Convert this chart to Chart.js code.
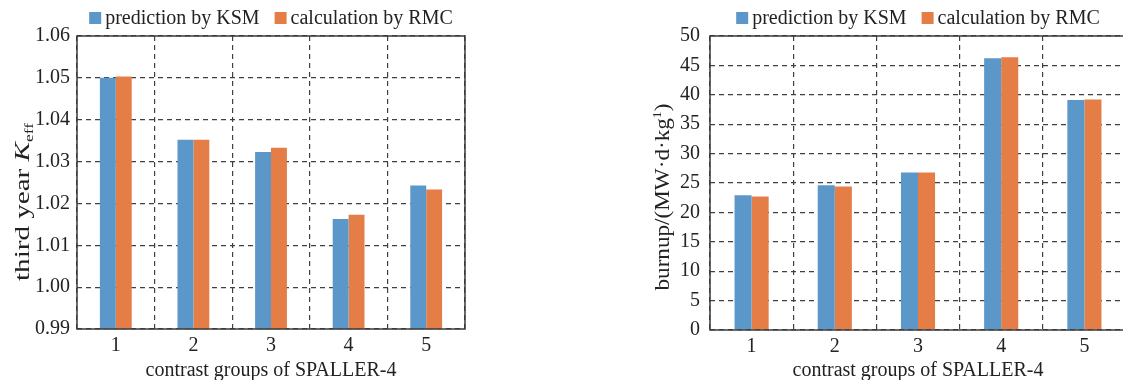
<!DOCTYPE html>
<html lang="en">
<head>
    <meta charset="UTF-8">
    <title>KSM vs RMC</title>
    <script src="https://cdn.jsdelivr.net/npm/chart.js"></script>
    <style>
        html, body { margin: 0; padding: 0; background: #fff; }
        body { width: 1123px; height: 380px; overflow: hidden; position: relative; }
        .painel { position: absolute; top: 0; height: 380px; }
    </style>
</head>
<body>
    <div class="painel" style="left:0;width:560px">
        <canvas id="graficoKeff" width="560" height="380"></canvas>
    </div>
    <div class="painel" style="left:600px;width:530px">
        <canvas id="graficoBurnup" width="530" height="380"></canvas>
    </div>
<script>
    // dados
    const groups = ['1', '2', '3', '4', '5'];
    const seriesNames = ['prediction by KSM', 'calculation by RMC'];

    const keffKSM = [1.0500, 1.0352, 1.0323, 1.0163, 1.0243];
    const keffRMC = [1.0503, 1.0352, 1.0333, 1.0173, 1.0233];
    const keffTicks = [0.99, 1.00, 1.01, 1.02, 1.03, 1.04, 1.05, 1.06];

    const burnupKSM = [22.9, 24.6, 26.8, 46.2, 39.1];
    const burnupRMC = [22.7, 24.4, 26.8, 46.4, 39.2];
    const burnupTicks = [0, 5, 10, 15, 20, 25, 30, 35, 40, 45, 50];

    const azul = '#5b97c9';
    const laranja = '#e57d46';
    const serif = '"Liberation Serif", "Times New Roman", serif';

    Chart.defaults.font.family = serif;
    Chart.defaults.font.size = 20;
    Chart.defaults.color = '#222';

    // moldura + legenda + titulo do eixo y desenhados à mão
    const molduraLegenda = {
        id: 'molduraLegenda',
        afterDraw(chart) {
            const ctx = chart.ctx;
            const a = chart.chartArea;
            ctx.save();
            ctx.strokeStyle = '#3a3a3a';
            ctx.lineWidth = 1.5;
            ctx.setLineDash([]);
            ctx.strokeRect(a.left, a.top, a.right - a.left, a.bottom - a.top);

            // legenda
            ctx.font = '20px ' + serif;
            const caixa = 12, gap = 4, entre = 15;
            const itens = chart.data.datasets.map(d => ({ cor: d.backgroundColor, txt: d.label, w: ctx.measureText(d.label).width }));
            let total = 0;
            itens.forEach((it, i) => { total += caixa + gap + it.w + (i > 0 ? entre : 0); });
            let x = (a.left + a.right) / 2 - total / 2;
            const base = 24;
            ctx.textBaseline = 'alphabetic';
            ctx.textAlign = 'left';
            itens.forEach((it, i) => {
                if (i > 0) x += entre;
                ctx.fillStyle = it.cor;
                ctx.fillRect(x, base - caixa, caixa, caixa);
                x += caixa + gap;
                ctx.fillStyle = '#222';
                ctx.fillText(it.txt, x, base);
                x += it.w;
            });

            // titulo do eixo y (texto esticado como no original)
            const t = chart.options.plugins.molduraLegenda;
            if (t && t.partes) {
                ctx.save();
                ctx.translate(t.x, t.y);
                ctx.rotate(-Math.PI / 2);
                let larg = 0;
                t.partes.forEach(p => { ctx.font = p.font; p.w = ctx.measureText(p.txt).width; larg += p.w; });
                ctx.scale(t.comprimento / larg, 1);
                let px = -larg / 2;
                ctx.fillStyle = '#222';
                t.partes.forEach(p => {
                    ctx.font = p.font;
                    ctx.fillText(p.txt, px, p.dy || 0);
                    px += p.w;
                });
                ctx.restore();
            }
            ctx.restore();
        }
    };

    function montarGrafico(idCanvas, ksm, rmc, ticks, opcoes) {
        const dados = {
            labels: groups,
            datasets: [{
                label: seriesNames[0],
                data: ksm,
                backgroundColor: azul,
                borderWidth: 0,
                categoryPercentage: 0.41,
                barPercentage: 1.0
            },
            {
                label: seriesNames[1],
                data: rmc,
                backgroundColor: laranja,
                borderWidth: 0,
                categoryPercentage: 0.41,
                barPercentage: 1.0
            }]
        };

        const config = {
            type: 'bar',
            data: dados,
            options: {
                responsive: false,
                animation: false,
                layout: { padding: { left: 0, top: 36, right: opcoes.direita, bottom: 0 } },
                plugins: {
                    legend: { display: false },
                    tooltip: { enabled: false },
                    molduraLegenda: opcoes.titulo
                },
                scales: {
                    x: {
                        grid: { color: '#404040', lineWidth: 1.2, drawTicks: false, offset: true },
                        border: { display: false, dash: [5, 4] },
                        ticks: { padding: 5, font: { size: 20 } },
                        title: {
                            display: true,
                            text: 'contrast groups of SPALLER-4',
                            font: { size: 20 },
                            padding: { top: 0, bottom: -3 }
                        },
                        afterFit: s => { s.height = opcoes.alturaX; }
                    },
                    y: {
                        min: ticks[0],
                        max: ticks[ticks.length - 1],
                        afterBuildTicks: s => { s.ticks = ticks.map(v => ({ value: v })); },
                        grid: { color: '#404040', lineWidth: 1.2, drawTicks: false },
                        border: { display: false, dash: [5, 4] },
                        ticks: {
                            padding: opcoes.padY,
                            font: { size: 20 },
                            callback: v => v.toFixed(opcoes.casas)
                        },
                        afterFit: s => { s.width = opcoes.larguraY; }
                    }
                }
            },
            plugins: [molduraLegenda]
        };

        return new Chart(document.getElementById(idCanvas), config);
    }

    montarGrafico('graficoKeff', keffKSM, keffRMC, keffTicks, {
        direita: 95, larguraY: 77, alturaX: 51, padY: 7, casas: 2,
        titulo: {
            x: 29, y: 202, comprimento: 158,
            partes: [
                { txt: 'third year ', font: '20px ' + serif },
                { txt: 'K', font: 'italic 20px ' + serif },
                { txt: 'eff', font: '12px ' + serif, dy: 4 }
            ]
        }
    });

    montarGrafico('graficoBurnup', burnupKSM, burnupRMC, burnupTicks, {
        direita: 4, larguraY: 110, alturaX: 50, padY: 10, casas: 0,
        titulo: {
            x: 69, y: 197, comprimento: 187,
            partes: [
                { txt: 'burnup/(MW\u00b7d\u00b7kg', font: '20px ' + serif },
                { txt: '1', font: '12px ' + serif, dy: -8 },
                { txt: ')', font: '20px ' + serif }
            ]
        }
    });
</script>
</body>
</html>
